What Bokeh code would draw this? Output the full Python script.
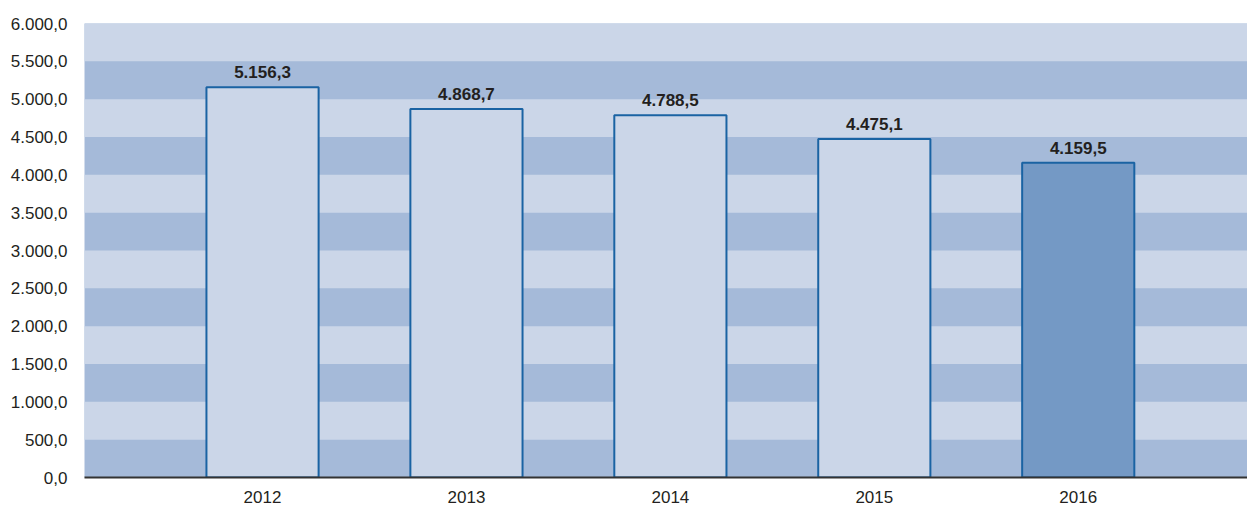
from bokeh.plotting import figure
from bokeh.models import ColumnDataSource, Range1d, FixedTicker, LabelSet
from bokeh.core.properties import value
from bokeh.embed import file_html
from bokeh.resources import INLINE

years = ["2012", "2013", "2014", "2015", "2016"]
values = [5156.3, 4868.7, 4788.5, 4475.1, 4159.5]
labels = ["5.156,3", "4.868,7", "4.788,5", "4.475,1", "4.159,5"]
fills = ["#CBD6E8", "#CBD6E8", "#CBD6E8", "#CBD6E8", "#7499C5"]
y_ticks = [0, 500, 1000, 1500, 2000, 2500, 3000, 3500, 4000, 4500, 5000, 5500, 6000]
y_tick_labels = ["0,0", "500,0", "1.000,0", "1.500,0", "2.000,0", "2.500,0", "3.000,0",
                 "3.500,0", "4.000,0", "4.500,0", "5.000,0", "5.500,0", "6.000,0"]

xs = list(range(len(years)))
src = ColumnDataSource(dict(x=xs, top=values, lab=labels, fill=fills))

p = figure(width=1247, height=507, output_backend="svg", toolbar_location=None,
           x_range=Range1d(-0.873, 4.83), y_range=Range1d(0, 6000),
           min_border_left=84, min_border_right=0, min_border_top=23, min_border_bottom=30)
p.outline_line_color = None
p.background_fill_color = "#A5BAD9"
p.border_fill_color = "white"

p.xgrid.visible = False
p.ygrid.grid_line_color = None
p.ygrid.band_fill_color = "#CBD6E8"
p.ygrid.band_fill_alpha = 1.0

p.vbar(x="x", top="top", bottom=0, width=0.55, source=src,
       fill_color="fill", line_color="#1A63A3", line_width=2)

p.add_layout(LabelSet(x="x", y="top", text="lab", source=src, text_align="center",
                      text_baseline="bottom", y_offset=9, text_font=value("Liberation Sans"),
                      text_font_style="bold", text_font_size="17px", text_color="#231F20"))

p.xaxis.ticker = FixedTicker(ticks=xs)
p.xaxis.major_label_overrides = {i: y for i, y in enumerate(years)}
p.xaxis.major_tick_line_color = None
p.xaxis.minor_tick_line_color = None
p.xaxis.axis_line_color = "#333333"
p.xaxis.axis_line_width = 2
p.xaxis.major_label_text_font = "Liberation Sans"
p.xaxis.major_label_text_font_size = "17px"
p.xaxis.major_label_text_color = "#231F20"
p.xaxis.major_label_standoff = 7

p.yaxis.ticker = FixedTicker(ticks=y_ticks)
p.yaxis.major_label_overrides = {t: l for t, l in zip(y_ticks, y_tick_labels)}
p.yaxis.major_tick_line_color = None
p.yaxis.minor_tick_line_color = None
p.yaxis.axis_line_color = None
p.yaxis.major_label_text_font = "Liberation Sans"
p.yaxis.major_label_text_font_size = "17px"
p.yaxis.major_label_text_color = "#231F20"
p.yaxis.major_label_standoff = 11

open("out.html", "w").write(file_html(p, INLINE))
